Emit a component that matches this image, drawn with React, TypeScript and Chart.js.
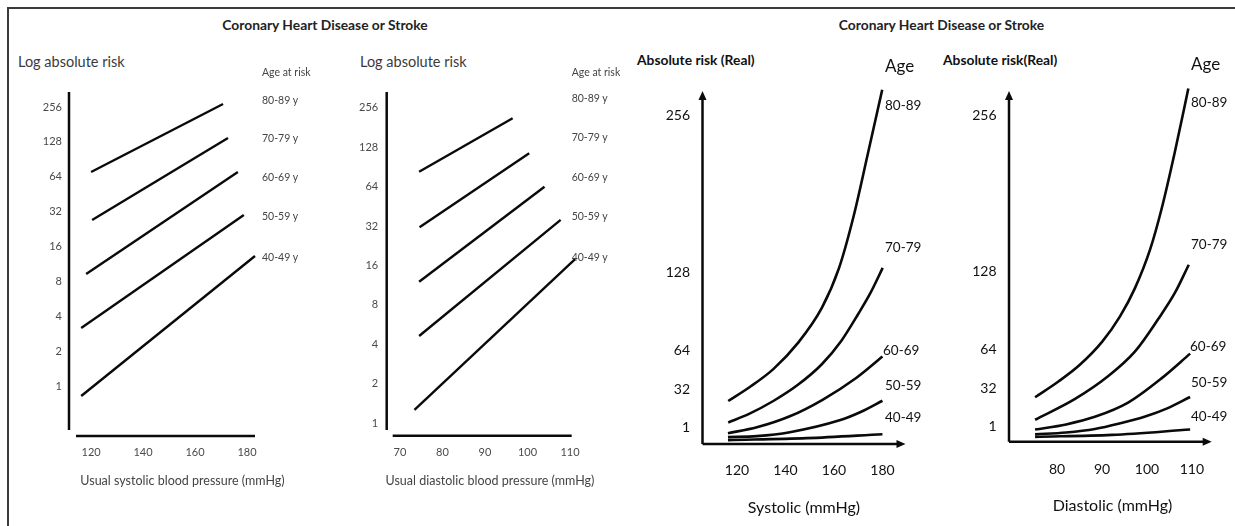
import React, { useEffect, useRef } from 'react';
import { Chart, registerables } from 'chart.js';

Chart.register(...registerables);

const FONT = 'Lato, "Open Sans", "Liberation Sans", sans-serif';

// ---------- shared categories / ticks ----------
const AGE_GROUPS = ['80-89', '70-79', '60-69', '50-59', '40-49'];
const LOG_TICKS = [1, 2, 4, 8, 16, 32, 64, 128, 256];
const REAL_TICKS = [1, 32, 64, 128, 256];
const SYS_TICKS = [120, 140, 160, 180];
const DIA_LOG_TICKS = [70, 80, 90, 100, 110];
const DIA_REAL_TICKS = [80, 90, 100, 110];

// ---------- panel 1: systolic, log absolute risk (start / end of each line) ----------
const sysLogX = [
  [120.0, 170.8],
  [120.4, 172.7],
  [118.1, 176.5],
  [116.2, 178.8],
  [116.2, 183.1],
];
const sysLogY = [
  [70.3, 271.7],
  [27.1, 138.3],
  [9.26, 70.3],
  [3.17, 29.9],
  [0.82, 13.25],
];

// ---------- panel 2: diastolic, log absolute risk ----------
const diaLogX = [
  [74.5, 96.5],
  [74.6, 100.4],
  [74.5, 104.0],
  [74.5, 107.8],
  [73.4, 111.2],
];
const diaLogY = [
  [83.2, 213],
  [31.3, 115],
  [12.0, 63.9],
  [4.62, 35.6],
  [1.26, 17.9],
];

// ---------- panel 3: systolic, real absolute risk (curves) ----------
const sysRealX = [
  [116.4, 125, 135, 145, 155, 162, 168, 174, 179.9],
  [116.4, 125, 135, 145, 155, 163, 170, 175, 180.1],
  [116.3, 128.2, 141.8, 155.3, 169.3, 180.0],
  [116.3, 128.2, 141.8, 162.3, 171.0, 180.0],
  [116.3, 148.8, 180.0],
];
const sysRealY = [
  [23, 34, 49, 70, 99, 131, 173, 225, 277],
  [5.5, 12.5, 23, 36, 53, 72, 94, 111, 131.6],
  [-3.3, 1.5, 10.5, 24, 42, 59.3],
  [-6.5, -5.7, -2.5, 7.2, 14.0, 23.2],
  [-8.9, -7.3, -4.1],
];

// ---------- panel 4: diastolic, real absolute risk (curves) ----------
const diaRealX = [
  [75.1, 80.3, 85, 90, 94, 97.3, 100.7, 103.3, 106.2, 109.2],
  [75.1, 84.0, 91.4, 97.3, 102.5, 106.2, 109.3],
  [75.1, 82.0, 88.4, 95.8, 103.3, 109.6],
  [75.1, 82.0, 88.4, 94.0, 99.6, 104.5, 109.6],
  [75.1, 92.2, 109.6],
];
const diaRealY = [
  [24.6, 37.5, 51, 70, 91, 114, 146, 180, 226, 278],
  [6.1, 23.2, 42, 62.0, 88.8, 110.2, 133.4],
  [-1.9, 2.3, 8.5, 20.2, 40.3, 60.4],
  [-5.9, -4.3, -1.4, 3.2, 8.8, 15.5, 24.8],
  [-7.9, -6.3, -1.9],
];

type Spec = {
  box: [number, number, number, number];
  area: [number, number, number, number];
  xRange: [number, number];
  yRange: [number, number];
  yType: 'logarithmic' | 'linear';
  xTicks: number[];
  yTicks: number[];
  xs: number[][];
  ys: number[][];
  curved: boolean;
  lineWidth: number;
  tickSize: number;
  tickColor: string;
  xPad: number;
  yPad: number;
  arrows: boolean;
  gapY: number;
  gapX: number;
};

const axisPlugin = {
  id: 'axisLines',
  afterDatasetsDraw(chart: any, _args: any, opts: any) {
    const { ctx, chartArea } = chart;
    const { left, right, top, bottom } = chartArea;
    ctx.save();
    ctx.strokeStyle = opts.color;
    ctx.fillStyle = opts.color;
    ctx.lineWidth = opts.width;
    ctx.lineCap = 'butt';
    if (opts.arrows) {
      const al = 9;
      const aw = 4;
      ctx.beginPath();
      ctx.moveTo(left, bottom);
      ctx.lineTo(left, top + al - 1);
      ctx.moveTo(left, bottom);
      ctx.lineTo(right - al + 1, bottom);
      ctx.stroke();
      ctx.beginPath();
      ctx.moveTo(left, top);
      ctx.lineTo(left - aw, top + al);
      ctx.lineTo(left + aw, top + al);
      ctx.closePath();
      ctx.fill();
      ctx.beginPath();
      ctx.moveTo(right, bottom);
      ctx.lineTo(right - al, bottom - aw);
      ctx.lineTo(right - al, bottom + aw);
      ctx.closePath();
      ctx.fill();
    } else {
      ctx.beginPath();
      ctx.moveTo(left, top);
      ctx.lineTo(left, bottom - opts.gapY);
      ctx.moveTo(left + opts.gapX, bottom);
      ctx.lineTo(right, bottom);
      ctx.stroke();
    }
    ctx.restore();
  },
};

function Panel({ spec }: { spec: Spec }) {
  const ref = useRef<HTMLCanvasElement>(null);
  useEffect(() => {
    const [cx, cy, cw, ch] = spec.box;
    const [L, T, R, B] = spec.area;
    const chart = new Chart(ref.current as HTMLCanvasElement, {
      type: 'line',
      data: {
        datasets: spec.xs.map((xa, i) => ({
          label: AGE_GROUPS[i],
          data: xa.map((x, j) => ({ x, y: spec.ys[i][j] })),
          borderColor: '#0a0a0a',
          borderWidth: spec.lineWidth,
          pointRadius: 0,
          tension: spec.curved ? 0.4 : 0,
          cubicInterpolationMode: spec.curved ? 'monotone' : 'default',
          clip: false,
          fill: false,
        })) as any,
      },
      options: {
        responsive: false,
        animation: false,
        devicePixelRatio: 1,
        events: [],
        layout: { padding: { top: T - cy, right: cx + cw - R, left: 0, bottom: 0 } },
        plugins: {
          legend: { display: false },
          tooltip: { enabled: false },
          title: { display: false },
          axisLines: {
            color: '#0a0a0a',
            width: 2.5,
            arrows: spec.arrows,
            gapY: spec.gapY,
            gapX: spec.gapX,
          },
        } as any,
        scales: {
          x: {
            type: 'linear',
            min: spec.xRange[0],
            max: spec.xRange[1],
            grid: { display: false, drawTicks: false },
            border: { display: false },
            ticks: {
              font: { family: FONT, size: spec.tickSize },
              color: spec.tickColor,
              padding: spec.xPad,
              autoSkip: false,
              maxRotation: 0,
              callback: (v: any) => String(v),
            },
            afterBuildTicks: (s: any) => {
              s.ticks = spec.xTicks.map((value) => ({ value }));
            },
            afterFit: (s: any) => {
              s.height = cy + ch - B;
            },
          },
          y: {
            type: spec.yType,
            min: spec.yRange[0],
            max: spec.yRange[1],
            grid: { display: false, drawTicks: false },
            border: { display: false },
            ticks: {
              font: { family: FONT, size: spec.tickSize },
              color: spec.tickColor,
              padding: spec.yPad,
              autoSkip: false,
              callback: (v: any) => String(v),
            },
            afterBuildTicks: (s: any) => {
              s.ticks = spec.yTicks.map((value) => ({ value }));
            },
            afterFit: (s: any) => {
              s.width = L - cx;
            },
          },
        } as any,
      },
      plugins: [axisPlugin],
    });
    return () => chart.destroy();
  }, []);
  const [cx, cy, cw, ch] = spec.box;
  return (
    <canvas
      ref={ref}
      width={cw}
      height={ch}
      style={{ position: 'absolute', left: cx, top: cy, width: cw, height: ch }}
    />
  );
}

function Txt({
  x,
  y,
  text,
  size,
  weight = 400,
  color = '#111',
  center = false,
}: {
  x: number;
  y: number;
  text: string;
  size: number;
  weight?: number;
  color?: string;
  center?: boolean;
}) {
  return (
    <div
      style={{
        position: 'absolute',
        left: x,
        top: y,
        transform: center ? 'translate(-50%, -50%)' : 'translateY(-50%)',
        fontFamily: FONT,
        fontSize: size,
        fontWeight: weight,
        color,
        lineHeight: 1,
        whiteSpace: 'nowrap',
      }}
    >
      {text}
    </div>
  );
}

const panel1: Spec = {
  box: [10, 70, 300, 430],
  area: [69, 92, 255, 436],
  xRange: [111.5, 183.1],
  yRange: [0.37, 345],
  yType: 'logarithmic',
  xTicks: SYS_TICKS,
  yTicks: LOG_TICKS,
  xs: sysLogX,
  ys: sysLogY,
  curved: false,
  lineWidth: 2.4,
  tickSize: 11,
  tickColor: '#4a4a4a',
  xPad: 10,
  yPad: 7,
  arrows: false,
  gapY: 6,
  gapX: 7,
};

const panel2: Spec = {
  box: [320, 70, 300, 430],
  area: [386.7, 92, 571.7, 435.7],
  xRange: [66.87, 110.4],
  yRange: [0.8, 338],
  yType: 'logarithmic',
  xTicks: DIA_LOG_TICKS,
  yTicks: LOG_TICKS,
  xs: diaLogX,
  ys: diaLogY,
  curved: false,
  lineWidth: 2.4,
  tickSize: 11,
  tickColor: '#4a4a4a',
  xPad: 10.4,
  yPad: 8.5,
  arrows: false,
  gapY: 5.7,
  gapX: 6,
};

const panel3: Spec = {
  box: [625, 70, 300, 430],
  area: [702.5, 85, 905.5, 444],
  xRange: [105.8, 189.5],
  yRange: [-12.1, 276.1],
  yType: 'linear',
  xTicks: SYS_TICKS,
  yTicks: REAL_TICKS,
  xs: sysRealX,
  ys: sysRealY,
  curved: true,
  lineWidth: 2.6,
  tickSize: 14,
  tickColor: '#111',
  xPad: 18.3,
  yPad: 12.5,
  arrows: true,
  gapY: 0,
  gapX: 0,
};

const panel4: Spec = {
  box: [930, 70, 300, 430],
  area: [1009, 83, 1211.7, 441.7],
  xRange: [69.3, 114.4],
  yRange: [-11.9, 276.1],
  yType: 'linear',
  xTicks: DIA_REAL_TICKS,
  yTicks: REAL_TICKS,
  xs: diaRealX,
  ys: diaRealY,
  curved: true,
  lineWidth: 2.6,
  tickSize: 14,
  tickColor: '#111',
  xPad: 19.2,
  yPad: 12.5,
  arrows: true,
  gapY: 0,
  gapX: 0,
};

const leftLabelY = [100, 137.5, 176.5, 216, 256.5];
const leftLabelY2 = [98.3, 136.7, 176.7, 216, 256.7];
const rightLabelY3 = [106, 248.3, 350.7, 386, 417.7];
const rightLabelY4 = [103.3, 245, 346.7, 382.7, 416.7];
const rightLabelX3 = [885, 885, 883, 885, 885];
const rightLabelX4 = [1191, 1191, 1190, 1191, 1191];

export default function App() {
  return (
    <div
      style={{
        position: 'absolute',
        left: 0,
        top: 0,
        width: 1235,
        height: 526,
        background: '#fff',
        overflow: 'hidden',
      }}
    >
      <div
        style={{
          position: 'absolute',
          left: 7,
          top: 7,
          width: 1240,
          height: 530,
          borderTop: '2px solid #3a3a3a',
          borderLeft: '2px solid #3a3a3a',
        }}
      />

      <Panel spec={panel1} />
      <Panel spec={panel2} />
      <Panel spec={panel3} />
      <Panel spec={panel4} />

      {/* titles */}
      <Txt x={325} y={25} text="Coronary Heart Disease or Stroke" size={13.8} weight={700} color="#222" center />
      <Txt x={941.5} y={25} text="Coronary Heart Disease or Stroke" size={13.8} weight={700} color="#222" center />

      {/* panel 1 texts */}
      <Txt x={18} y={62} text="Log absolute risk" size={14.5} color="#3a3a3a" />
      <Txt x={262} y={72} text="Age at risk" size={10.5} color="#444" />
      {AGE_GROUPS.map((g, i) => (
        <Txt key={'l1' + g} x={262} y={leftLabelY[i]} text={g + ' y'} size={10.5} color="#444" />
      ))}
      <Txt x={182.5} y={481} text="Usual systolic blood pressure (mmHg)" size={12.5} color="#444" center />

      {/* panel 2 texts */}
      <Txt x={360} y={62} text="Log absolute risk" size={14.5} color="#3a3a3a" />
      <Txt x={571.7} y={72} text="Age at risk" size={10.5} color="#444" />
      {AGE_GROUPS.map((g, i) => (
        <Txt key={'l2' + g} x={571.7} y={leftLabelY2[i]} text={g + ' y'} size={10.5} color="#444" />
      ))}
      <Txt x={490} y={481} text="Usual diastolic blood pressure (mmHg)" size={12.5} color="#444" center />

      {/* panel 3 texts */}
      <Txt x={637} y={60} text="Absolute risk (Real)" size={13.8} weight={700} color="#111" />
      <Txt x={885} y={65} text="Age" size={17} color="#111" />
      {AGE_GROUPS.map((g, i) => (
        <Txt key={'r3' + g} x={rightLabelX3[i]} y={rightLabelY3[i]} text={g} size={13.5} color="#111" />
      ))}
      <Txt x={804} y={507} text="Systolic (mmHg)" size={16} color="#111" center />

      {/* panel 4 texts */}
      <Txt x={943} y={60} text="Absolute risk(Real)" size={13.8} weight={700} color="#111" />
      <Txt x={1191} y={63} text="Age" size={17} color="#111" />
      {AGE_GROUPS.map((g, i) => (
        <Txt key={'r4' + g} x={rightLabelX4[i]} y={rightLabelY4[i]} text={g} size={13.5} color="#111" />
      ))}
      <Txt x={1112.5} y={505} text="Diastolic (mmHg)" size={16} color="#111" center />
    </div>
  );
}
